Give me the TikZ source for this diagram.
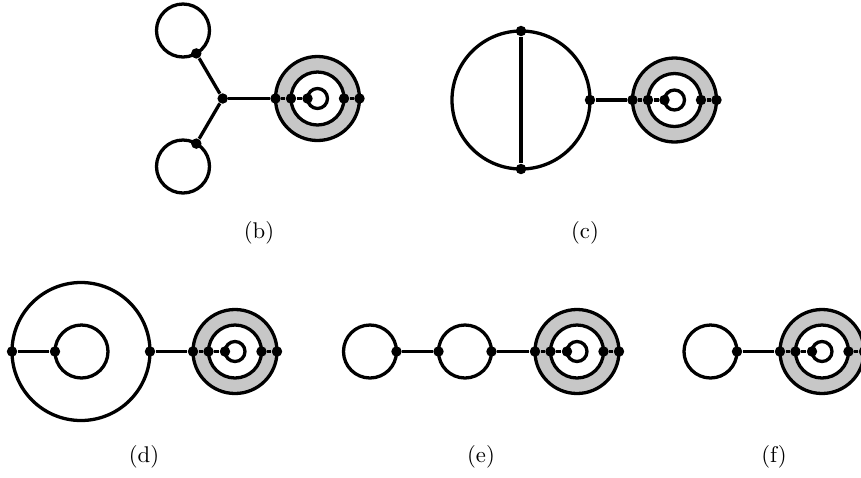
\documentclass[tikz,border=0pt]{standalone}
\usepackage{tikz}
\usetikzlibrary{positioning}
\colorlet{ringgray}{black!22}
\tikzset{
  dot/.style={circle,fill=black,inner sep=0pt,minimum size=4.6pt},
  edge/.style={line width=1.45pt},
  lab/.style={font=\normalsize},
}
% gray ring with the inner loop: name, x, y
\newcommand{\ringgraph}[3]{%
  \coordinate (#1) at (#2,#3);
  \fill[ringgray,even odd rule] (#1) circle (42) (#1) circle (26.5);
  \draw[edge] (#1) circle (42) (#1) circle (26.5) (#1) circle (10);
  \node[dot] (#1-ol) at (#2-42,#3) {};
  \node[dot] (#1-il) at (#2-26.5,#3) {};
  \node[dot] (#1-s) at (#2-10,#3) {};
  \node[dot] (#1-ir) at (#2+26.5,#3) {};
  \node[dot] (#1-or) at (#2+42,#3) {};
  \draw[edge] (#1-ol) -- (#1-il);
  \draw[edge] (#1-il) -- (#1-s);
  \draw[edge] (#1-ir) -- (#1-or);
}

\begin{document}
\begin{tikzpicture}[x=0.44pt,y=-0.44pt]
  \useasboundingbox (0,0) rectangle (861,477);

  % (b)
  \draw[edge] (183,30.5) circle (26.5) (183,166.5) circle (26.5);
  \node[dot] (b-t) at (196.3,53.4) {};
  \node[dot] (b-d) at (196.3,143.6) {};
  \node[dot] (b-v) at (222.7,98.5) {};
  \ringgraph{b-r}{317.5}{98.5}
  \draw[edge] (b-t) -- (b-v);
  \draw[edge] (b-d) -- (b-v);
  \draw[edge] (b-v) -- (b-r-ol);
  \node[lab] (b-lab) at (259,233) {(b)};

  % (c)
  \draw[edge] (521,100) circle (69);
  \node[dot] (c-t) at (521,31) {};
  \node[dot] (c-d) at (521,169) {};
  \node[dot] (c-e) at (590,100) {};
  \ringgraph{c-r}{674.5}{100}
  \draw[edge] (c-t) -- (c-d);
  \draw[edge] (c-e) -- (c-r-ol);
  \node[lab] (c-lab) at (585,233) {(c)};

  % (d)
  \draw[edge] (81,351.5) circle (69) (81.5,351.5) circle (26.5);
  \node[dot] (d-w) at (12,351.5) {};
  \node[dot] (d-i) at (55,351.5) {};
  \node[dot] (d-e) at (150,351.5) {};
  \ringgraph{d-r}{235}{351.5}
  \draw[edge] (d-w) -- (d-i);
  \draw[edge] (d-e) -- (d-r-ol);
  \node[lab] (d-lab) at (144,457) {(d)};

  % (e)
  \draw[edge] (370,351.5) circle (26.5) (465,351.5) circle (26.5);
  \node[dot] (e-a) at (396.5,351.5) {};
  \node[dot] (e-b) at (438.5,351.5) {};
  \node[dot] (e-c) at (491.5,351.5) {};
  \ringgraph{e-r}{577}{351.5}
  \draw[edge] (e-a) -- (e-b);
  \draw[edge] (e-c) -- (e-r-ol);
  \node[lab] (e-lab) at (481,457) {(e)};

  % (f)
  \draw[edge] (710.5,351.5) circle (26.5);
  \node[dot] (f-a) at (737,351.5) {};
  \ringgraph{f-r}{822}{351.5}
  \draw[edge] (f-a) -- (f-r-ol);
  \node[lab] (f-lab) at (774,457) {(f)};
\end{tikzpicture}
\end{document}
